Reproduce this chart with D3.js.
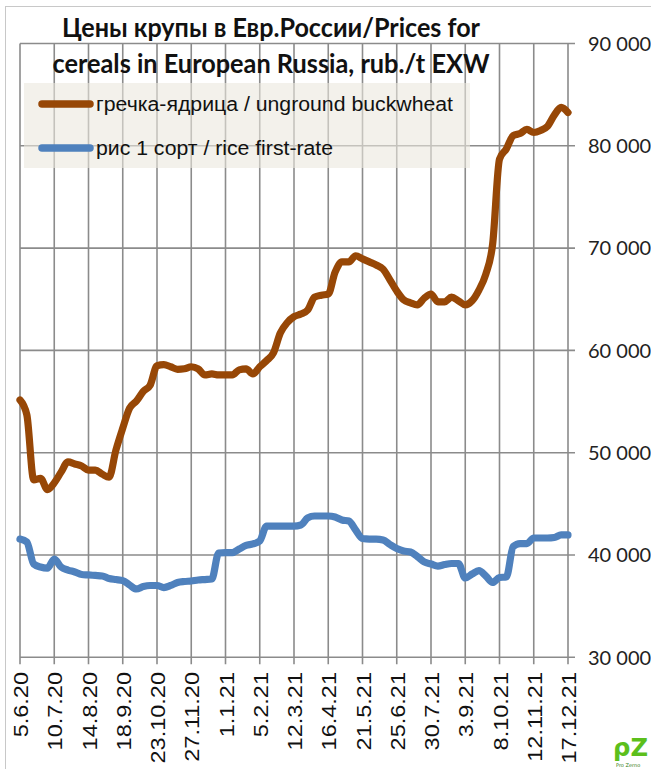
<!DOCTYPE html>
<html>
<head>
<meta charset="utf-8">
<script src="https://cdn.jsdelivr.net/npm/d3@7"></script>
<style>
  body { margin: 0; background: #fff; }
</style>
</head>
<body>
<svg id="chart" width="651" height="769"></svg>
<script>
// weekly observations, 5.6.20 .. 17.12.21 (81 weeks)
const tickLabels = ["5.6.20", "10.7.20", "14.8.20", "18.9.20", "23.10.20", "27.11.20",
  "1.1.21", "5.2.21", "12.3.21", "16.4.21", "21.5.21", "25.6.21", "30.7.21",
  "3.9.21", "8.10.21", "12.11.21", "17.12.21"];
const weeksPerTick = 5;

const buckwheat = [
  55150, 53700, 47350, 47500, 46400, 47050, 48100, 49100, 48900, 48700,
  48300, 48300, 47900, 47600, 50250, 52400, 54350, 55050, 56000, 56600,
  58500, 58600, 58400, 58150, 58200, 58400, 58200, 57600, 57700, 57600,
  57600, 57600, 58100, 58200, 57700, 58400, 59000, 59750, 61700, 62700,
  63300, 63550, 63950, 65200, 65400, 65500, 67650, 68650, 68650, 69250,
  68950, 68650, 68350, 67950, 66900, 65800, 64950, 64650, 64450, 65100,
  65500, 64750, 64750, 65200, 64850, 64450, 64850, 65900, 67450, 70400,
  78700, 79700, 81000, 81200, 81600, 81300, 81500, 81900, 83000, 83750,
  83250
];
const rice = [
  41560, 41270, 39120, 38820, 38720, 39610, 38820, 38530, 38340, 38090,
  38050, 38000, 37950, 37700, 37600, 37500, 37070, 36680, 36920, 37020,
  37020, 36820, 37020, 37310, 37410, 37460, 37560, 37600, 37650, 40200,
  40240, 40240, 40590, 40930, 41080, 41370, 42830, 42830, 42830, 42830,
  42830, 42930, 43620, 43810, 43810, 43810, 43710, 43420, 43320, 42440,
  41610, 41560, 41560, 41470, 41030, 40640, 40390, 40290, 39850, 39320,
  39120, 38920, 39070, 39170, 39170, 37750, 38140, 38480, 37950, 37310,
  37800, 37850, 40830, 41120, 41120, 41660, 41660, 41660, 41710, 41960,
  41960
];
const yTicks = [30000, 40000, 50000, 60000, 70000, 80000, 90000];

const seriesNames = ["гречка-ядрица / unground buckwheat", "рис 1 сорт / rice first-rate"];
const seriesColors = ["#974706", "#4f81bd"];
const titleLines = ["Цены крупы в Евр.России/Prices for", "cereals in European Russia, rub./t EXW"];

const svg = d3.select("#chart");
const plotLeft = 20, plotRight = 568, plotTop = 43.5, plotBottom = 657.3;

const x = d3.scaleLinear().domain([0, buckwheat.length - 1]).range([plotLeft, plotRight]);
const y = d3.scaleLinear().domain([30000, 90000]).range([plotBottom, plotTop]);
const fmt = d3.formatLocale({ thousands: " ", grouping: [3], decimal: "," }).format(",");

// outer frame
svg.append("rect")
  .attr("x", 5.5).attr("y", 6.5).attr("width", 700).attr("height", 800)
  .attr("fill", "none").attr("stroke", "#c8c8c8").attr("stroke-width", 1);

const grid = "#8b8b8b";
const tickIdx = tickLabels.map((d, i) => i * weeksPerTick);

// vertical grid + ticks below
svg.append("g").selectAll("line").data(tickIdx).join("line")
  .attr("x1", d => x(d)).attr("x2", d => x(d))
  .attr("y1", plotTop).attr("y2", plotBottom + 7)
  .attr("stroke", grid).attr("stroke-width", 1.6);

// horizontal grid + ticks on right
svg.append("g").selectAll("line").data(yTicks).join("line")
  .attr("x1", plotLeft).attr("x2", plotRight + 7)
  .attr("y1", d => y(d)).attr("y2", d => y(d))
  .attr("stroke", grid).attr("stroke-width", 1.6);

// y labels
svg.append("g").selectAll("text").data(yTicks).join("text")
  .attr("x", 588).attr("y", d => y(d))
  .attr("dy", "0.36em")
  .attr("font-family", "Lato, 'Open Sans', sans-serif")
  .attr("font-size", 20)
  .attr("fill", "#222")
  .text(d => fmt(d));

// x labels, rotated
svg.append("g").selectAll("text").data(tickLabels).join("text")
  .attr("transform", (d, i) => `translate(${x(tickIdx[i]) + 8},672) rotate(-90) scale(1.12,1)`)
  .attr("text-anchor", "end")
  .attr("font-family", "'Liberation Sans', Arial, sans-serif")
  .attr("font-size", 21)
  .attr("fill", "#111")
  .text(d => d);

// title
svg.append("g").selectAll("text").data(titleLines).join("text")
  .attr("x", 271).attr("y", (d, i) => 37 + i * 36)
  .attr("text-anchor", "middle")
  .attr("font-family", "Lato, 'Open Sans', sans-serif")
  .attr("font-weight", "bold")
  .attr("font-size", 26)
  .attr("textLength", (d, i) => [418, 437][i])
  .attr("lengthAdjust", "spacingAndGlyphs")
  .attr("fill", "#111")
  .text(d => d);

// legend
const legend = svg.append("g");
legend.append("rect")
  .attr("x", 24).attr("y", 83).attr("width", 446).attr("height", 85)
  .attr("fill", "#ebe8dd").attr("opacity", 0.6);
seriesNames.forEach((name, i) => {
  const ly = 104 + i * 44;
  legend.append("line")
    .attr("x1", 42).attr("x2", 90).attr("y1", ly).attr("y2", ly)
    .attr("stroke", seriesColors[i]).attr("stroke-width", 7.5)
    .attr("stroke-linecap", "round");
  legend.append("text")
    .attr("x", 96).attr("y", ly + 7)
    .attr("font-family", "'Liberation Sans', Arial, sans-serif")
    .attr("font-size", 19.5)
    .attr("textLength", [357, 237][i])
    .attr("lengthAdjust", "spacingAndGlyphs")
    .attr("fill", "#111")
    .text(name);
});

// lines
const line = d3.line()
  .x((d, i) => x(i))
  .y(d => y(d))
  .curve(d3.curveMonotoneX);

[buckwheat, rice].forEach((s, i) => {
  svg.append("path")
    .attr("d", line(s))
    .attr("fill", "none")
    .attr("stroke", seriesColors[i])
    .attr("stroke-width", 7.2)
    .attr("stroke-linejoin", "round")
    .attr("stroke-linecap", "round");
});

// corner logo
const logo = svg.append("g").attr("transform", "translate(613,738)");
logo.append("text")
  .attr("x", 0).attr("y", 18)
  .attr("font-family", "'DejaVu Sans', sans-serif")
  .attr("font-weight", "bold")
  .attr("font-size", 24)
  .attr("textLength", 35)
  .attr("lengthAdjust", "spacingAndGlyphs")
  .attr("fill", "#5cbf1c")
  .text("ρZ");
logo.append("text")
  .attr("x", 3).attr("y", 29)
  .attr("font-family", "'DejaVu Sans', sans-serif")
  .attr("font-size", 5)
  .attr("fill", "#2f7a10")
  .text("Pro Zerno");
</script>
</body>
</html>
